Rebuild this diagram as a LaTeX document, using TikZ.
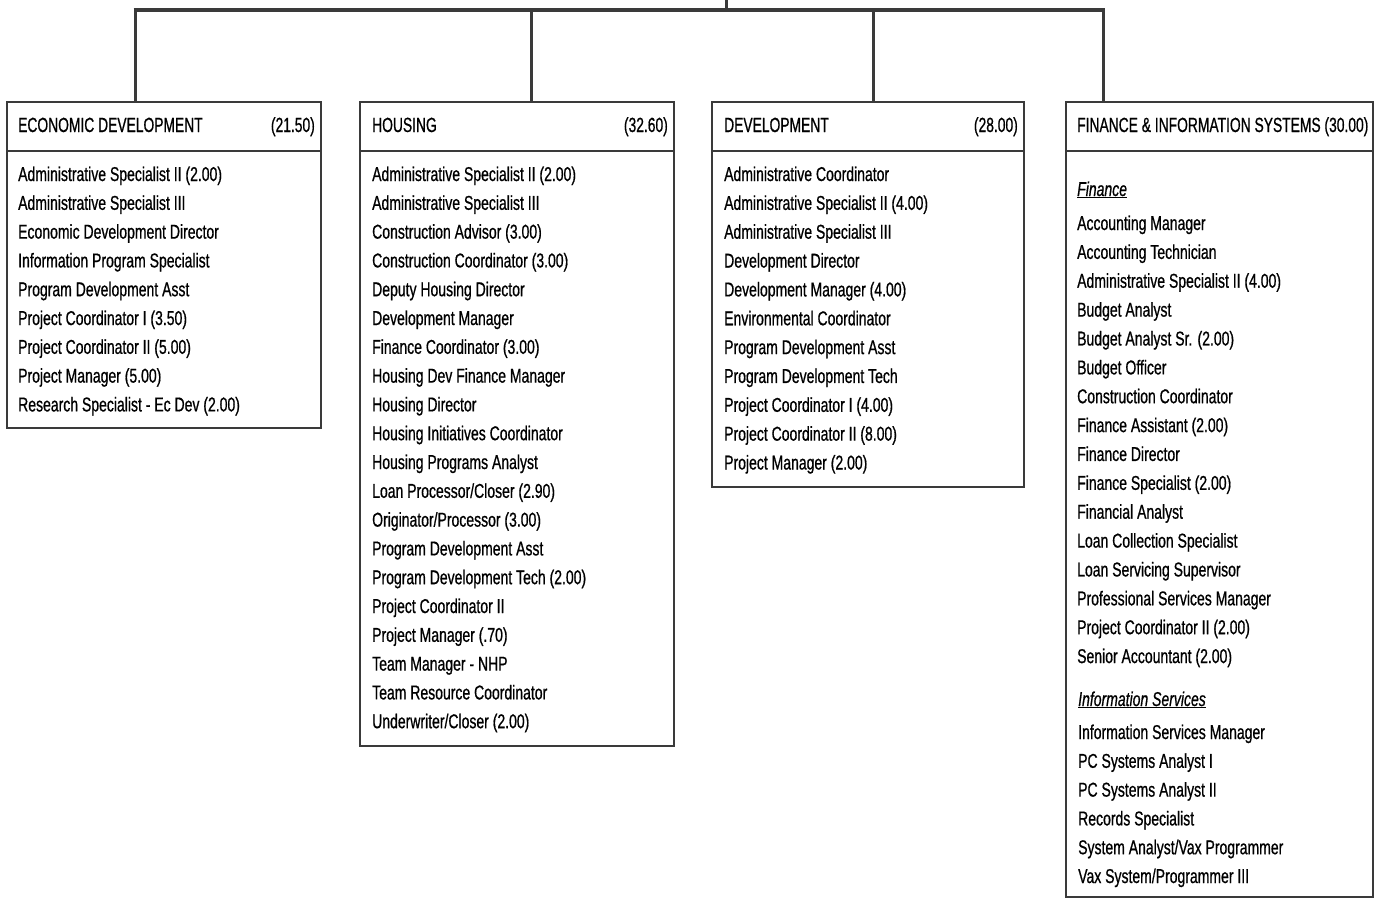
\documentclass[tikz,border=0pt]{standalone}
\usepackage{fontspec}
\setmainfont{Liberation Sans}[FakeStretch=0.70, FakeBold=0.7]
\newfontfamily\headfont{Liberation Sans}[FakeStretch=0.675, FakeBold=0.7]
\begin{document}
\begin{tikzpicture}[x=1pt,y=-1pt,
  box/.style={draw=linec, line width=2.2pt, anchor=north west, inner sep=0pt},
  conn/.style={draw=linec, line width=3pt},
  bar/.style={draw=linec, line width=4pt},
  item/.style={anchor=base west, inner sep=0pt, font=\fontsize{20}{24}\selectfont, text=black},
  head/.style={anchor=base west, inner sep=0pt, font=\headfont\fontsize{20.5}{24}\selectfont, text=black},
  num/.style={anchor=base east, inner sep=0pt, font=\headfont\fontsize{20.5}{24}\selectfont, text=black},
  sub/.style={anchor=base west, inner sep=0pt, font=\fontsize{20}{24}\selectfont\itshape, text=black}]
\definecolor{linec}{HTML}{3A3A3A}
\useasboundingbox (0,0) rectangle (1378,899);
\fill[white] (0,0) rectangle (1378,899);

% boxes
\node[box, minimum width=314pt, minimum height=326pt] (econ) at (6,101) {};
\node[box, minimum width=314pt, minimum height=644pt] (hous) at (359,101) {};
\node[box, minimum width=312pt, minimum height=385pt] (dev) at (711,101) {};
\node[box, minimum width=307pt, minimum height=795pt] (fin) at (1065,101) {};

% header dividers
\draw[linec, line width=2pt] (econ.north west |- 0,151) -- (econ.north east |- 0,151);
\draw[linec, line width=2pt] (hous.north west |- 0,151) -- (hous.north east |- 0,151);
\draw[linec, line width=2pt] (dev.north west |- 0,151) -- (dev.north east |- 0,151);
\draw[linec, line width=2pt] (fin.north west |- 0,151) -- (fin.north east |- 0,151);

% connectors
\coordinate (root) at (726,0);
\coordinate (hub) at (726,10);
\coordinate (t1) at (135,10);
\coordinate (t2) at (531,10);
\coordinate (t3) at (873,10);
\coordinate (t4) at (1103,10);
\coordinate (d1) at (135,101);
\coordinate (d2) at (531,101);
\coordinate (d3) at (873,101);
\coordinate (d4) at (1103,101);
\draw[conn] (root) -- (hub);
\draw[bar] ([xshift=-1.5pt]t1) -- ([xshift=1.5pt]t4);
\draw[conn] (t1) -- (d1);
\draw[conn] (t2) -- (d2);
\draw[conn] (t3) -- (d3);
\draw[conn] (t4) -- (d4);

% headers
\node[head] (h1) at (18,132) {ECONOMIC DEVELOPMENT};
\node[num] (n1) at (315,132) {(21.50)};
\node[head] (h2) at (372,132) {HOUSING};
\node[num] (n2) at (668,132) {(32.60)};
\node[head] (h3) at (724,132) {DEVELOPMENT};
\node[num] (n3) at (1018,132) {(28.00)};
\node[head] (h4) at (1077,132) {FINANCE \& INFORMATION SYSTEMS (30.00)};

% economic development
\foreach \t [count=\i] in {
  {Administrative Specialist II (2.00)},
  {Administrative Specialist III},
  {Economic Development Director},
  {Information Program Specialist},
  {Program Development Asst},
  {Project Coordinator I (3.50)},
  {Project Coordinator II (5.00)},
  {Project Manager (5.00)},
  {Research Specialist - Ec Dev (2.00)}}
  \node[item] (e\i) at (18,{181+28.8*(\i-1)}) {\t};

% housing
\foreach \t [count=\i] in {
  {Administrative Specialist II (2.00)},
  {Administrative Specialist III},
  {Construction Advisor (3.00)},
  {Construction Coordinator (3.00)},
  {Deputy Housing Director},
  {Development Manager},
  {Finance Coordinator (3.00)},
  {Housing Dev Finance Manager},
  {Housing Director},
  {Housing Initiatives Coordinator},
  {Housing Programs Analyst},
  {Loan Processor/Closer (2.90)},
  {Originator/Processor (3.00)},
  {Program Development Asst},
  {Program Development Tech (2.00)},
  {Project Coordinator II},
  {Project Manager (.70)},
  {Team Manager - NHP},
  {Team Resource Coordinator},
  {Underwriter/Closer (2.00)}}
  \node[item] (h\i) at (372,{181+28.8*(\i-1)}) {\t};

% development
\foreach \t [count=\i] in {
  {Administrative Coordinator},
  {Administrative Specialist II (4.00)},
  {Administrative Specialist III},
  {Development Director},
  {Development Manager (4.00)},
  {Environmental Coordinator},
  {Program Development Asst},
  {Program Development Tech},
  {Project Coordinator I (4.00)},
  {Project Coordinator II (8.00)},
  {Project Manager (2.00)}}
  \node[item] (v\i) at (724,{181+28.85*(\i-1)}) {\t};

% finance
\node[sub] (fs) at (1077,196) {\underline{Finance}};
\foreach \t [count=\i] in {
  {Accounting Manager},
  {Accounting Technician},
  {Administrative Specialist II (4.00)},
  {Budget Analyst},
  {Budget Analyst Sr. (2.00)},
  {Budget Officer},
  {Construction Coordinator},
  {Finance Assistant (2.00)},
  {Finance Director},
  {Finance Specialist (2.00)},
  {Financial Analyst},
  {Loan Collection Specialist},
  {Loan Servicing Supervisor},
  {Professional Services Manager},
  {Project Coordinator II (2.00)},
  {Senior Accountant (2.00)}}
  \node[item] (f\i) at (1077,{230+28.87*(\i-1)}) {\t};
\node[sub] (is) at (1078,706) {\underline{Information Services}};
\foreach \t [count=\i] in {
  {Information Services Manager},
  {PC Systems Analyst I},
  {PC Systems Analyst II},
  {Records Specialist},
  {System Analyst/Vax Programmer},
  {Vax System/Programmer III}}
  \node[item] (s\i) at (1078,{739+28.8*(\i-1)}) {\t};
\end{tikzpicture}
\end{document}
